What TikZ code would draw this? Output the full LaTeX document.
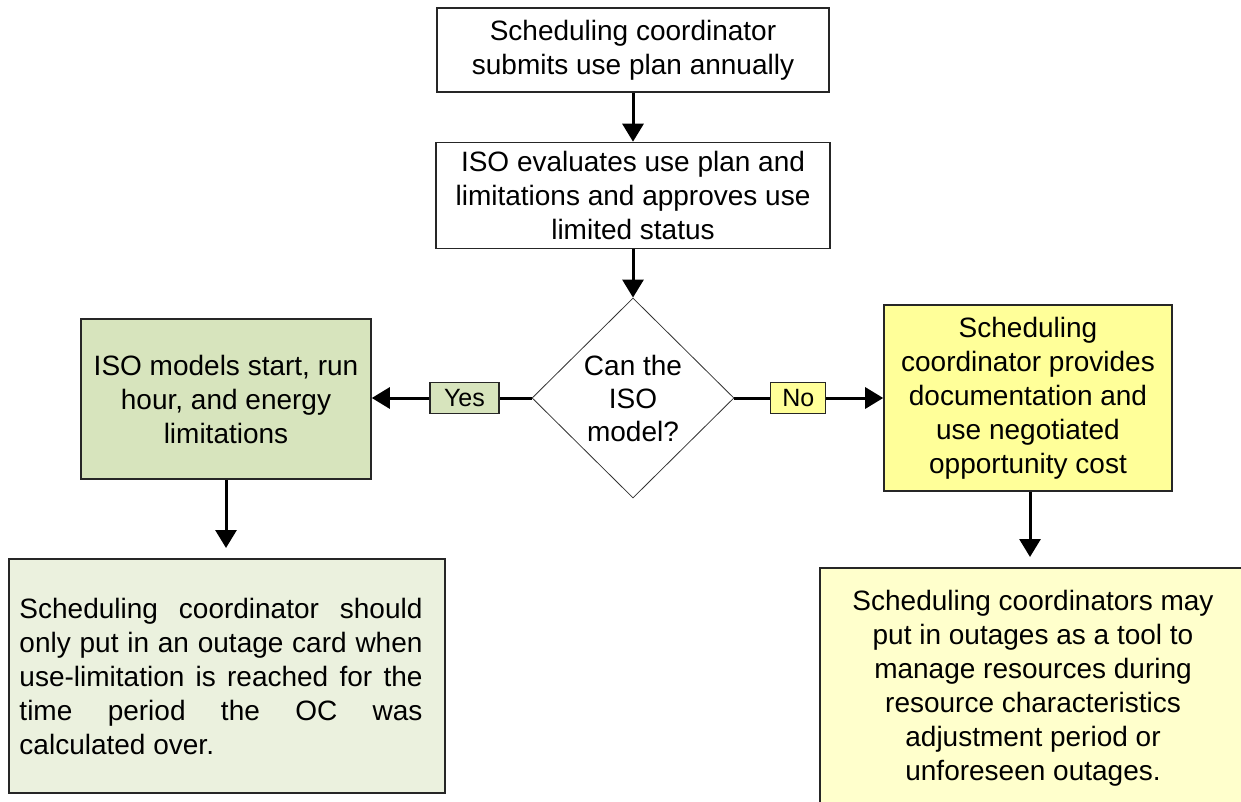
\documentclass[tikz,border=0pt]{standalone}
\usepackage{fontspec}
\setmainfont{Liberation Sans}
\usetikzlibrary{shapes.geometric,arrows.meta}
\definecolor{gfill}{HTML}{D7E4BD}
\definecolor{glight}{HTML}{EBF1DE}
\definecolor{yfill}{HTML}{FFFF99}
\definecolor{ylight}{HTML}{FFFFCC}
\begin{document}
\begin{tikzpicture}[x=1pt,y=-1pt,
  box/.style={draw=black!85, line width=1.6pt, align=center, inner sep=0pt, font=\fontsize{28}{34}\selectfont},
  conn/.style={line width=3pt, -{Triangle[length=18pt,width=21pt]}},
  lab/.style={draw=black!85, line width=1.2pt, inner sep=0pt, minimum height=31pt, font=\fontsize{25}{28}\selectfont}
]
\clip (0,0) rectangle (1241,802);
\fill[white] (0,0) rectangle (1241,802);
\node[box, minimum width=392pt, minimum height=84pt] (submit) at (633,50) {Scheduling coordinator\\submits use plan annually};
\node[box, minimum width=394pt, minimum height=106pt] (eval) at (633,195.5) {ISO evaluates use plan and\\limitations and approves use\\limited status};
\node[diamond, draw=black!80, line width=0.8pt, minimum width=202pt, minimum height=200pt, inner sep=0pt, align=center, font=\fontsize{28}{33}\selectfont] (can) at (633,398) {Can the\\ISO\\model?};
\node[box, fill=gfill, minimum width=290pt, minimum height=160pt] (models) at (226,399) {ISO models start, run\\hour, and energy\\limitations};
\node[box, fill=yfill, minimum width=288pt, minimum height=186pt] (docs) at (1028,398) {Scheduling\\coordinator provides\\documentation and\\use negotiated\\opportunity cost};
\node[box, fill=glight, minimum width=436pt, minimum height=234pt, align=left] (outage) at (227,676) {\makebox[403pt][s]{Scheduling coordinator should}\hspace*{12pt}\\\makebox[403pt][s]{only put in an outage card when}\hspace*{12pt}\\\makebox[403pt][s]{use-limitation is reached for the}\hspace*{12pt}\\\makebox[403pt][s]{time period the OC was}\hspace*{12pt}\\calculated over.};
\node[box, fill=ylight, minimum width=426pt, minimum height=240pt] (tool) at (1033,688) {Scheduling coordinators may\\put in outages as a tool to\\manage resources during\\resource characteristics\\adjustment period or\\unforeseen outages.};
\draw[conn] (submit) -- (eval);
\draw[conn] (eval) -- (can);
\draw[conn] (can.west) -- node[lab, fill=gfill, minimum width=69pt, pos=0.42]{Yes} (can.west -| models.east);
\draw[conn] (can.east) -- node[lab, fill=yfill, minimum width=55pt, pos=0.43]{No} (can.east -| docs.west);
\coordinate (a1) at (226,548);
\coordinate (a2) at (1030,557);
\draw[conn] (models) -- (a1);
\draw[conn] (docs.south -| a2) -- (a2);
\end{tikzpicture}
\end{document}
